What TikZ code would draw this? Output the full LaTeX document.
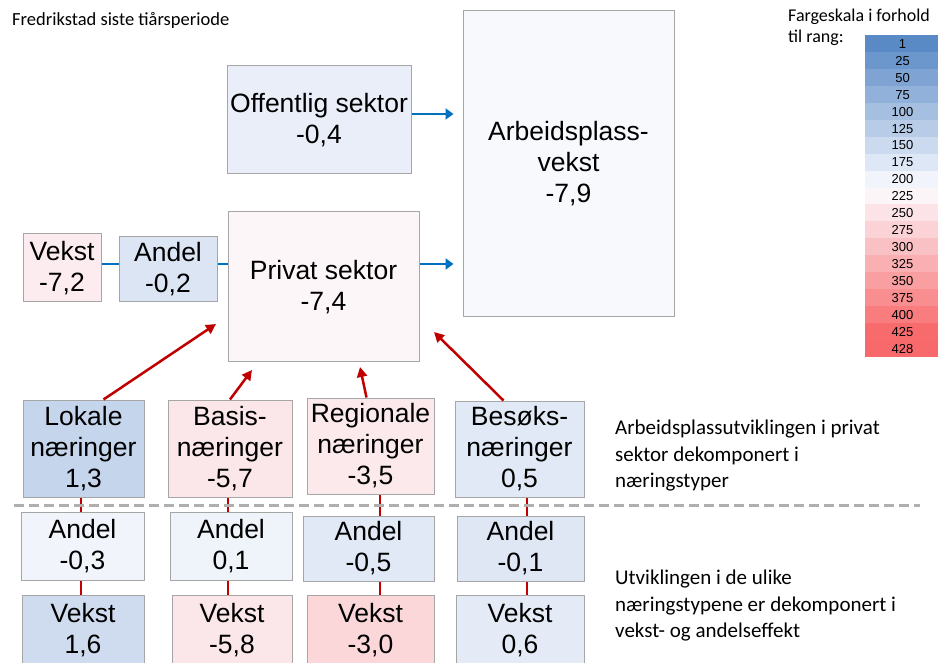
\documentclass[tikz,border=0pt]{standalone}
\usepackage{fontspec}
\setmainfont{Liberation Sans}
\newfontfamily\calib{Carlito}
\usetikzlibrary{arrows.meta}

\definecolor{scaleblue}{RGB}{90,138,198}
\definecolor{scalewhite}{RGB}{252,252,255}
\definecolor{scalered}{RGB}{248,105,107}
\definecolor{boxgray}{RGB}{166,166,166}
\definecolor{linkblue}{RGB}{0,112,192}
\definecolor{linkred}{RGB}{192,0,0}
\definecolor{dashgray}{RGB}{175,175,175}

\colorlet{cOffentlig}{scaleblue!12!scalewhite}
\colorlet{cPrivat}{scalered!4!scalewhite}
\colorlet{cArbeid}{scaleblue!3!scalewhite}
\colorlet{cVekstP}{scalered!11!scalewhite}
\colorlet{cAndelP}{scaleblue!20!scalewhite}
\colorlet{cLokale}{scaleblue!34!scalewhite}
\colorlet{cBasis}{scalered!14!scalewhite}
\colorlet{cRegio}{scalered!13!scalewhite}
\colorlet{cBesok}{scaleblue!17!scalewhite}
\colorlet{cAndelL}{scaleblue!7!scalewhite}
\colorlet{cAndelB}{scaleblue!8!scalewhite}
\colorlet{cAndelR}{scaleblue!17!scalewhite}
\colorlet{cAndelS}{scaleblue!18!scalewhite}
\colorlet{cVekstL}{scaleblue!28!scalewhite}
\colorlet{cVekstB}{scalered!15!scalewhite}
\colorlet{cVekstR}{scalered!25!scalewhite}
\colorlet{cVekstS}{scaleblue!15!scalewhite}

\tikzset{
	valbox/.style={draw=boxgray, line width=1pt, align=center, inner sep=0pt, font=\fontsize{26.5}{31}\selectfont, execute at begin node={\rule{0pt}{25pt}}},
	bluelink/.style={draw=linkblue, line width=2.5pt},
	bluearrow/.style={bluelink, -{Triangle[length=8pt,width=11pt]}, shorten >=9pt},
	redlink/.style={draw=linkred, line width=2.5pt},
	redarrow/.style={redlink, -{Triangle[length=10pt,width=10pt]}},
	note/.style={font=\calib\fontsize{21}{26.5}\selectfont, align=left, anchor=north west, inner sep=0pt}
}

\begin{document}
\begin{tikzpicture}[x=1pt, y=-1pt]
				\useasboundingbox (0, 0) rectangle (938, 663);
				\clip (0, 0) rectangle (938, 663);

				\node[anchor=base west, inner sep=0pt, font=\calib\fontsize{18.5}{22}\selectfont] (title) at (12, 26) {Fredrikstad siste tiårsperiode};
				\node[anchor=north west, inner sep=0pt, align=left, font=\calib\fontsize{18}{21.5}\selectfont] (scaletitle) at (788, 8.5) {Fargeskala i forhold\\til rang:};

				\foreach \rk [count=\i from 0] in {1,25,50,75,100,125,150,175,200,225,250,275,300,325,350,375,400,425,428}{
					\pgfmathsetmacro\pb{max(0,(214.5-\rk)/2.135)}
					\pgfmathsetmacro\pr{max(0,(\rk-214.5)/2.135)}
					\pgfmathsetmacro\ytop{35+\i*16.947}
					\colorlet{rowcol}{scalered!\pr!scalewhite}
					\fill[scaleblue!\pb!rowcol] (865, \ytop) rectangle (940, \ytop+16.947);
					\node[font=\fontsize{13}{15}\selectfont, inner sep=0pt] (rank\i) at (902.5, \ytop+8.8) {\rk};
				}

				\node[valbox, fill=cOffentlig, minimum width=184pt, minimum height=108pt] (offentlig) at (319, 120) {Offentlig sektor\\-0,4};
				\node[valbox, fill=cArbeid, minimum width=211pt, minimum height=306pt] (arbeid) at (568.5, 164) {Arbeidsplass-\\vekst\\-7,9};
				\node[valbox, fill=cPrivat, minimum width=191pt, minimum height=150pt] (privat) at (323.5, 287) {Privat sektor\\-7,4};
				\node[valbox, fill=cVekstP, minimum width=78pt, minimum height=68pt] (vekstP) at (62, 268) {Vekst\\-7,2};
				\node[valbox, fill=cAndelP, minimum width=98pt, minimum height=65pt] (andelP) at (168, 269.5) {Andel\\-0,2};

				\node[valbox, fill=cLokale, minimum width=121pt, minimum height=97pt] (lokale) at (83.5, 448.5) {Lokale\\næringer\\1,3};
				\node[valbox, fill=cBasis, minimum width=124pt, minimum height=97pt] (basis) at (230, 448.5) {Basis-\\næringer\\-5,7};
				\node[valbox, fill=cRegio, minimum width=127pt, minimum height=96pt] (regio) at (370.5, 446) {Regionale\\næringer\\-3,5};
				\node[valbox, fill=cBesok, minimum width=129pt, minimum height=96pt] (besok) at (519.5, 449) {Besøks-\\næringer\\0,5};

				\node[valbox, fill=cAndelL, minimum width=123pt, minimum height=68pt] (andelL) at (82.5, 546) {Andel\\-0,3};
				\node[valbox, fill=cAndelB, minimum width=122pt, minimum height=68pt] (andelB) at (231, 546) {Andel\\0,1};
				\node[valbox, fill=cAndelR, minimum width=131pt, minimum height=65pt] (andelR) at (368.5, 548.5) {Andel\\-0,5};
				\node[valbox, fill=cAndelS, minimum width=127pt, minimum height=65pt] (andelS) at (520.5, 548.5) {Andel\\-0,1};

				\node[valbox, fill=cVekstL, minimum width=122pt, minimum height=71pt] (vekstL) at (83, 630.5) {Vekst\\1,6};
				\node[valbox, fill=cVekstB, minimum width=120pt, minimum height=71pt] (vekstB) at (232, 630.5) {Vekst\\-5,8};
				\node[valbox, fill=cVekstR, minimum width=127pt, minimum height=71pt] (vekstR) at (370.5, 630.5) {Vekst\\-3,0};
				\node[valbox, fill=cVekstS, minimum width=128pt, minimum height=71pt] (vekstS) at (520, 630.5) {Vekst\\0,6};

				\node[note] (noteTop) at (615, 420) {Arbeidsplassutviklingen i privat\\sektor dekomponert i\\næringstyper};
				\node[note] (noteBot) at (615, 570) {Utviklingen i de ulike\\næringstypene er dekomponert i\\vekst- og andelseffekt};

				\coordinate (olevel) at (0, 114);
				\coordinate (plevel) at (0, 264);
				\coordinate (colL) at (81, 0);
				\coordinate (colB) at (228, 0);
				\coordinate (colR) at (380, 0);
				\coordinate (colS) at (527, 0);
				\coordinate (tipL) at (216, 324);
				\coordinate (tipB) at (252, 370);
				\coordinate (tipR) at (360, 367);
				\coordinate (tipS) at (434, 332);

				\draw[bluearrow] (offentlig.east |- olevel) -- (arbeid.west |- olevel);
				\draw[bluearrow] (privat.east |- plevel) -- (arbeid.west |- plevel);
				\draw[bluelink] (vekstP.east |- plevel) -- (andelP.west |- plevel);
				\draw[bluelink] (andelP.east |- plevel) -- (privat.west |- plevel);

				\draw[redarrow] ([xshift=20pt]lokale.north) -- (tipL);
				\draw[redarrow] (basis.north) -- (tipB);
				\draw[redarrow] ([xshift=-4pt]regio.north) -- (tipR);
				\draw[redarrow] ([xshift=-16pt]besok.north) -- (tipS);

				\foreach \top/\mid/\bot/\col in {lokale/andelL/vekstL/colL, basis/andelB/vekstB/colB, regio/andelR/vekstR/colR, besok/andelS/vekstS/colS}{
					\draw[redlink] (\top.south -| \col) -- (\mid.north -| \col);
					\draw[redlink] (\mid.south -| \col) -- (\bot.north -| \col);
				}

				\coordinate (dashL) at (14, 505);
				\coordinate (dashR) at (920, 505);
				\draw[dashgray, line width=3pt, dash pattern=on 10pt off 5pt] (dashL) -- (dashR);
			\end{tikzpicture}
\end{document}
